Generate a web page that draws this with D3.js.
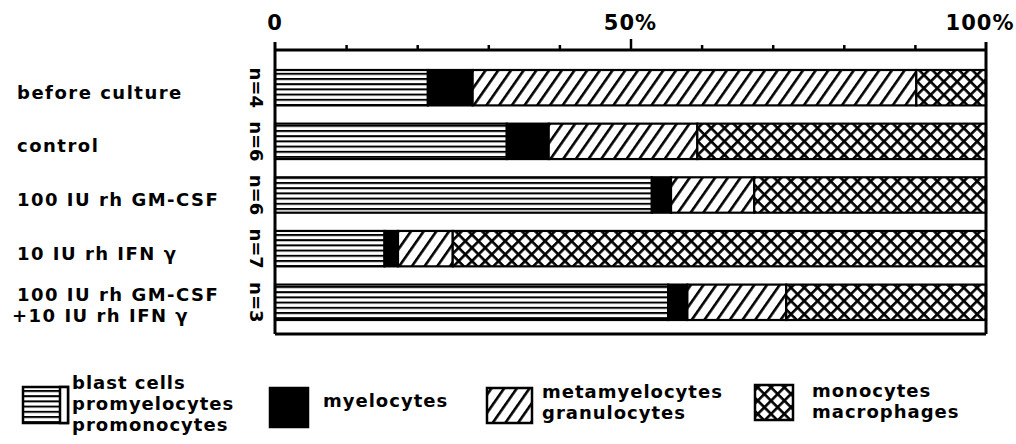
<!DOCTYPE html>
<html lang="en">
<head>
<meta charset="UTF-8">
<title>Cell composition after culture</title>
<script src="https://d3js.org/d3.v7.min.js"></script>
<style>
    body { margin: 0; background: #fff; }
    svg text { font-family: "DejaVu Sans", "Liberation Sans", sans-serif; font-weight: bold; fill: #000; }
</style>
</head>
<body>
<div id="chart"></div>
<script>
    const w = 1016;
    const h = 444;

    // data (percent of cells)
    const groupLabels = [
        ["before culture"],
        ["control"],
        ["100 IU rh GM-CSF"],
        ["10 IU rh IFN γ"],
        ["100 IU rh GM-CSF", "+10 IU rh IFN γ"]
    ];
    const nValues = [4, 6, 6, 7, 3];
    const blast = [21.5, 32.6, 53.0, 15.4, 55.3];
    const myelo = [6.3, 5.9, 2.7, 1.9, 2.7];
    const meta = [62.4, 20.9, 11.7, 7.7, 13.9];
    const mono = [9.8, 40.6, 32.6, 75.0, 28.1];

    const tickValues = [0, 50, 100];
    const tickLabels = ["0", "50%", "100%"];

    const seriesKeys = ["blast", "myelo", "meta", "mono"];
    const legendLabels = [
        ["blast cells", "promyelocytes", "promonocytes"],
        ["myelocytes"],
        ["metamyelocytes", "granulocytes"],
        ["monocytes", "macrophages"]
    ];

    const rows = groupLabels.map((g, i) => ({
        idx: i, blast: blast[i], myelo: myelo[i], meta: meta[i], mono: mono[i]
    }));

    const x0 = 275, x1 = 986;
    const frameTop = 50, frameBottom = 334;

    const xScale = d3.scaleLinear().domain([0, 100]).range([x0, x1]);
    const yScale = d3.scaleBand()
        .domain(d3.range(groupLabels.length))
        .range([70, 320])
        .paddingInner(0.34)
        .paddingOuter(0);

    const svg = d3.select('#chart')
        .append('svg')
        .attr('width', w)
        .attr('height', h);

    // hatch patterns
    const defs = svg.append('defs');
    const pStripe = defs.append('pattern')
        .attr('id', 'p-blast')
        .attr('patternUnits', 'userSpaceOnUse')
        .attr('width', 10).attr('height', 5.2);
    pStripe.append('rect').attr('width', 10).attr('height', 5.2).attr('fill', '#fff');
    pStripe.append('rect').attr('y', 0).attr('width', 10).attr('height', 2).attr('fill', '#000');

    const pDiag = defs.append('pattern')
        .attr('id', 'p-meta')
        .attr('patternUnits', 'userSpaceOnUse')
        .attr('width', 10.4).attr('height', 10.4)
        .attr('patternTransform', 'rotate(35)');
    pDiag.append('rect').attr('width', 10.4).attr('height', 10.4).attr('fill', '#fff');
    pDiag.append('rect').attr('width', 2.6).attr('height', 10.4).attr('fill', '#000');

    const pCross = defs.append('pattern')
        .attr('id', 'p-mono')
        .attr('patternUnits', 'userSpaceOnUse')
        .attr('width', 9.4).attr('height', 9.4)
        .attr('patternTransform', 'rotate(45)');
    pCross.append('rect').attr('width', 9.4).attr('height', 9.4).attr('fill', '#fff');
    pCross.append('rect').attr('width', 2.6).attr('height', 9.4).attr('fill', '#000');
    pCross.append('rect').attr('width', 9.4).attr('height', 2.6).attr('fill', '#000');

    const fills = {
        blast: 'url(#p-blast)',
        myelo: '#000',
        meta: 'url(#p-meta)',
        mono: 'url(#p-mono)'
    };

    // stacked bars
    const stacked = d3.stack().keys(seriesKeys)(rows);
    svg.append('g')
        .selectAll('g')
        .data(stacked)
        .enter()
        .append('g')
        .attr('fill', d => fills[d.key])
        .selectAll('rect')
        .data(d => d)
        .enter()
        .append('rect')
        .attr('x', d => xScale(d[0]))
        .attr('y', d => yScale(d.data.idx))
        .attr('width', d => xScale(d[1]) - xScale(d[0]))
        .attr('height', yScale.bandwidth())
        .attr('stroke', '#000')
        .attr('stroke-width', 2.2);

    // frame and top axis
    const frame = svg.append('g').attr('stroke', '#000').attr('stroke-width', 3).attr('fill', 'none');
    frame.append('line').attr('x1', x0).attr('x2', x1).attr('y1', frameTop).attr('y2', frameTop);
    frame.append('line').attr('x1', x0).attr('x2', x1).attr('y1', frameBottom).attr('y2', frameBottom);
    frame.append('line').attr('x1', x0).attr('x2', x0).attr('y1', frameTop - 8).attr('y2', frameBottom);
    frame.append('line').attr('x1', x1).attr('x2', x1).attr('y1', frameTop - 8).attr('y2', frameBottom);

    const xAxis = d3.axisTop(xScale)
        .tickValues(d3.range(10, 100, 10))
        .tickSize(5)
        .tickFormat('');
    const axisG = svg.append('g')
        .attr('transform', `translate(0, ${frameTop})`)
        .call(xAxis);
    axisG.select('.domain').remove();
    axisG.selectAll('.tick line')
        .attr('stroke', '#000')
        .attr('stroke-width', 2.5)
        .attr('y2', v => v === 50 ? -11 : -5);

    svg.append('g')
        .selectAll('text')
        .data(tickValues)
        .enter()
        .append('text')
        .attr('x', (d, i) => xScale(d) + (i === 2 ? -6 : 0))
        .attr('y', 30)
        .attr('text-anchor', 'middle')
        .attr('font-size', 21)
        .attr('letter-spacing', 1)
        .text((d, i) => tickLabels[i]);

    // group labels
    const cy = i => yScale(i) + yScale.bandwidth() / 2;
    svg.append('g')
        .selectAll('text')
        .data(groupLabels)
        .enter()
        .append('text')
        .attr('font-size', 18)
        .attr('letter-spacing', 1.5)
        .each(function (lines, i) {
            const t = d3.select(this);
            const base = lines.length === 1 ? cy(i) + 11 : cy(i) - 1;
            lines.forEach((ln, k) => {
                t.append('tspan')
                    .attr('x', k === 0 ? 17 : 12)
                    .attr('y', base + k * 21)
                    .text(ln);
            });
        });

    // n labels (rotated)
    svg.append('g')
        .selectAll('text')
        .data(nValues)
        .enter()
        .append('text')
        .attr('transform', (d, i) => `translate(256, ${cy(i)}) rotate(90)`)
        .attr('text-anchor', 'middle')
        .attr('dominant-baseline', 'central')
        .attr('font-size', 18)
        .text(d => `n=${d}`);

    // legend
    const legendX = [23, 270, 487, 755];
    const legendBox = [[45, 36], [38, 39], [45, 35], [38, 35]];
    const legendBoxY = [387, 388, 388, 385];
    const legendTextX = [72, 323, 542, 812];
    const legendTextY = [[389, 410, 431], [407], [398, 419], [397, 418]];

    const legend = svg.append('g')
        .selectAll('g')
        .data(seriesKeys)
        .enter()
        .append('g');
    legend.append('rect')
        .attr('x', (d, i) => legendX[i])
        .attr('y', (d, i) => legendBoxY[i])
        .attr('width', (d, i) => legendBox[i][0])
        .attr('height', (d, i) => legendBox[i][1])
        .attr('fill', d => fills[d])
        .attr('stroke', '#000')
        .attr('stroke-width', 2.5);
    legend.filter(d => d === 'blast')
        .append('rect')
        .attr('x', legendX[0] + 37)
        .attr('y', legendBoxY[0])
        .attr('width', 8)
        .attr('height', legendBox[0][1])
        .attr('fill', '#fff')
        .attr('stroke', '#000')
        .attr('stroke-width', 2.5);
    legend.append('text')
        .attr('font-size', 18)
        .attr('letter-spacing', 1)
        .each(function (key, i) {
            const t = d3.select(this);
            legendLabels[i].forEach((ln, k) => {
                t.append('tspan')
                    .attr('x', legendTextX[i])
                    .attr('y', legendTextY[i][k])
                    .text(ln);
            });
        });
</script>
</body>
</html>
